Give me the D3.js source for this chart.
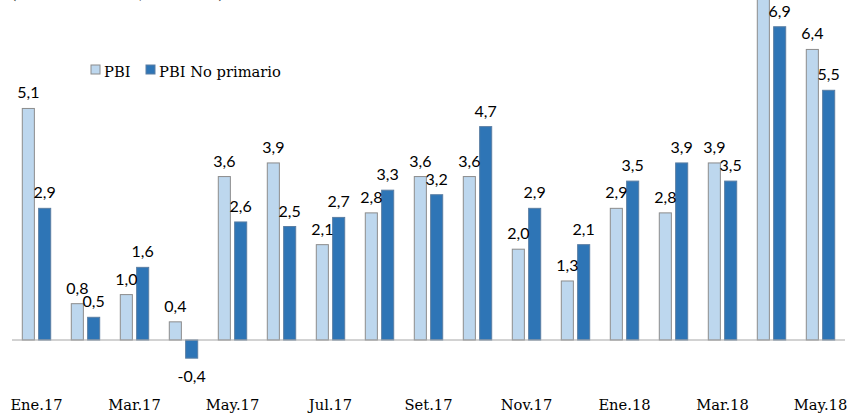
<html>
  <head>
    <script src="https://cdnjs.cloudflare.com/ajax/libs/d3/7.8.5/d3.min.js"></script>
    <style>
      body { margin: 0; background: #fff; }
      .lbl { font-family: Lato, "Open Sans", sans-serif; font-size: 16px; fill: #000; }
      .serif { font-family: "DejaVu Serif", "Liberation Serif", serif; font-size: 14.7px; fill: #000; }
    </style>
  </head>
  <body>
    <div id="chart"></div>
    <script>
      const months = ["Ene.17", "Feb.17", "Mar.17", "Abr.17", "May.17", "Jun.17", "Jul.17", "Ago.17",
        "Set.17", "Oct.17", "Nov.17", "Dic.17", "Ene.18", "Feb.18", "Mar.18", "Abr.18", "May.18"];
      const series = ["PBI", "PBI No primario"];
      const pbi = [5.1, 0.8, 1.0, 0.4, 3.6, 3.9, 2.1, 2.8, 3.6, 3.6, 2.0, 1.3, 2.9, 2.8, 3.9, 7.8, 6.4];
      const noPrimario = [2.9, 0.5, 1.6, -0.4, 2.6, 2.5, 2.7, 3.3, 3.2, 4.7, 2.9, 2.1, 3.5, 3.9, 3.5, 6.9, 5.5];
      const tickLabels = ["Ene.17", "Mar.17", "May.17", "Jul.17", "Set.17", "Nov.17", "Ene.18", "Mar.18", "May.18"];

      const colors = { "PBI": "#bdd7ee", "PBI No primario": "#2e75b6" };
      const strokes = { "PBI": "#8c8c8c", "PBI No primario": "#5b7ea3" };

      const w = 851, h = 415;
      const svg = d3.select("#chart").append("svg").attr("width", w).attr("height", h);

      const x0 = d3.scaleBand().domain(months).range([12, 845]).paddingInner(0.4).paddingOuter(0.2);
      const x1 = d3.scaleBand().domain(series).range([0, x0.bandwidth()]).paddingInner(0.2);
      const y = d3.scaleLinear().domain([-0.5, 7.5]).range([362.7, -0.5]);

      const rows = months.map((m, i) => ({ m, vals: [
        { s: "PBI", v: pbi[i] },
        { s: "PBI No primario", v: noPrimario[i] }
      ] }));

      // title (cut off at the top, only the descenders show)
      svg.append("text").attr("class", "serif").attr("x", 11).attr("y", -1)
        .text("(Variación % real, 12 meses)");

      const g = svg.append("g").selectAll("g").data(rows).enter().append("g")
        .attr("transform", (d) => "translate(" + x0(d.m) + ",0)");

      g.selectAll("rect").data((d) => d.vals).enter().append("rect")
        .attr("x", (d) => x1(d.s) + 0.5)
        .attr("y", (d) => y(Math.max(0, d.v)))
        .attr("width", x1.bandwidth() - 1)
        .attr("height", (d) => Math.abs(y(d.v) - y(0)))
        .attr("fill", (d) => colors[d.s])
        .attr("stroke", (d) => strokes[d.s])
        .attr("stroke-width", 1);

      g.selectAll("text").data((d) => d.vals).enter().append("text")
        .attr("class", "lbl")
        .attr("text-anchor", "middle")
        .attr("x", (d) => x1(d.s) + x1.bandwidth() / 2)
        .attr("y", (d) => d.v >= 0 ? y(d.v) - 10 : y(d.v) + 24)
        .text((d) => d3.format(".1f")(d.v).replace(".", ",").replace("−", "-"));

      // zero line
      svg.append("line").attr("x1", 12).attr("x2", 845)
        .attr("y1", y(0)).attr("y2", y(0))
        .attr("stroke", "#a6a6a6").attr("stroke-width", 1);

      // x axis labels
      const xAxis = d3.axisBottom(x0).tickValues(tickLabels).tickSize(0).tickPadding(0);
      const ax = svg.append("g").attr("transform", "translate(0,400)").call(xAxis)
        .attr("font-family", null).attr("font-size", null);
      ax.select(".domain").remove();
      ax.selectAll("text").attr("class", "serif").attr("fill", "#000");

      // legend
      const leg = svg.append("g");
      const legX = [91, 146];
      series.forEach((s, i) => {
        leg.append("rect").attr("x", legX[i]).attr("y", 65).attr("width", 9).attr("height", 9)
          .attr("fill", colors[s]).attr("stroke", strokes[s]);
        leg.append("text").attr("class", "serif").attr("x", legX[i] + 13).attr("y", 77).text(s);
      });
    </script>
  </body>
</html>
